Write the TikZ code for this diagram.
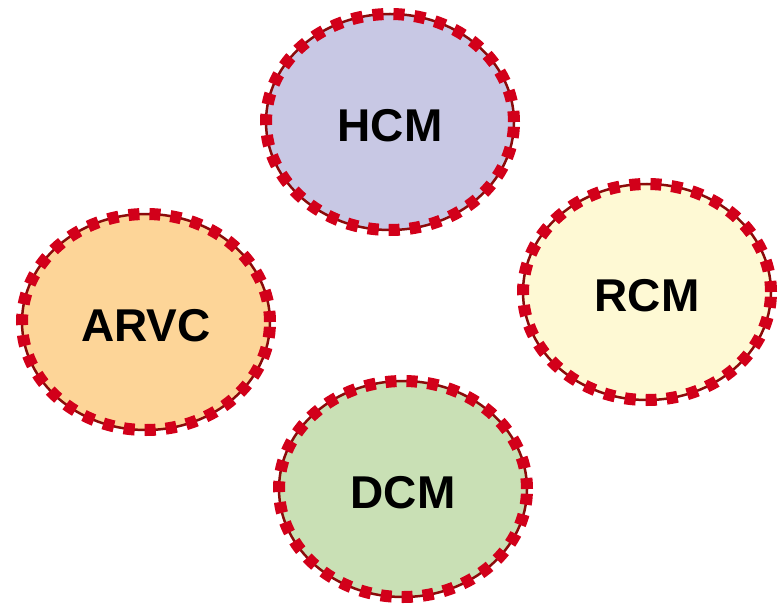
\documentclass[tikz,border=0pt]{standalone}
\usepackage{fontspec}
\setmainfont{Liberation Sans}
\usetikzlibrary{shapes.geometric}
\definecolor{rimred}{HTML}{D2001A}
\definecolor{rimdark}{HTML}{8B0A0A}
\definecolor{hcmfill}{HTML}{C8C8E4}
\definecolor{arvcfill}{HTML}{FDD598}
\definecolor{rcmfill}{HTML}{FEF9D4}
\definecolor{dcmfill}{HTML}{C9E0B5}

\begin{document}
\begin{tikzpicture}[x=1pt, y=-1pt,
    cardio/.style={ellipse, draw=rimdark, line width=2.5pt, minimum width=248pt, minimum height=216pt,
        inner sep=0pt, text height=39pt, text depth=0pt, font=\fontsize{46}{50}\selectfont\bfseries,
        postaction={draw=rimred, line width=12pt, dash pattern=on 11pt off 10pt}}
]
\useasboundingbox (0,0) rectangle (781,604);

% cardiomyopathies
\node[cardio, fill=hcmfill] (hcm) at (390,122) {HCM};
\node[cardio, fill=arvcfill] (arvc) at (146,322) {ARVC};
\node[cardio, fill=rcmfill] (rcm) at (647,292) {RCM};
\node[cardio, fill=dcmfill] (dcm) at (403,489) {DCM};
\end{tikzpicture}
\end{document}
